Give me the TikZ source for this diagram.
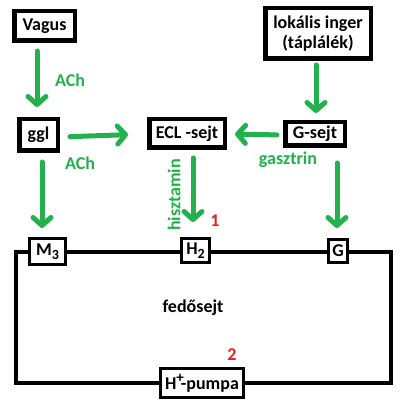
\documentclass[tikz,border=0pt]{standalone}
\usepackage{fontspec}
\setmainfont{Carlito}
\usetikzlibrary{arrows.meta}
\definecolor{pgreen}{HTML}{22B14C}
\definecolor{pred}{HTML}{ED1C24}
\begin{document}
\begin{tikzpicture}[x=1pt,y=-1pt,
  every node/.style={font=\fontsize{18}{20}\selectfont\bfseries, inner sep=0pt},
  topbox/.style={draw=black, line width=4.5pt, fill=white, align=center},
  cellbox/.style={draw=black, line width=3pt, fill=white},
  ga/.style={draw=pgreen, line width=5pt, line cap=round,
    -{Straight Barb[length=8pt,width=18pt,round]}},
  glabel/.style={text=pgreen},
  rlabel/.style={text=pred}]
\useasboundingbox (0,0) rectangle (420,414);
\fill[white] (0,0) rectangle (420,414);
% cell outline
\coordinate (c1) at (16,252);
\coordinate (c2) at (391,383);
\draw[line width=4pt] (c1) rectangle (c2);
% top boxes
\node[topbox, minimum width=60.5pt, minimum height=29.5pt] (vagus) at (44.5,26) {Vagus};
\node[topbox, minimum width=105.5pt, minimum height=50.5pt] (lok) at (318,33.5) {lokális inger\\(táplálék)};
\node[topbox, minimum width=38.5pt, minimum height=31.5pt] (ggl) at (38.5,135) {ggl};
\node[topbox, minimum width=75.5pt, minimum height=28.5pt] (ecl) at (187,133.5) {ECL -sejt};
\node[topbox, minimum width=59.5pt, minimum height=23.5pt] (gs) at (315,134) {G-sejt};
% cell boxes
\node[cellbox, minimum width=36pt, minimum height=26pt] (m3) at (47.5,251.5) {M\raisebox{-4pt}{\fontsize{14}{14}\selectfont 3}};
\node[cellbox, minimum width=28pt, minimum height=24pt] (h2) at (195.5,250.5) {H\raisebox{-4pt}{\fontsize{14}{14}\selectfont 2}};
\node[cellbox, minimum width=19pt, minimum height=23pt] (g) at (338,251) {G};
\node[cellbox, minimum width=83pt, minimum height=29pt] (pump) at (202,383) {H\raisebox{7pt}{\fontsize{15}{15}\selectfont +}\kern-3pt-pumpa};
\node (fed) at (193,308) {fedősejt};
% arrows
\draw[ga, shorten <=8pt, shorten >=10pt] ([xshift=-7.5pt]vagus.south) -- ([xshift=-1.5pt]ggl.north);
\draw[ga, shorten <=10pt, shorten >=19pt] ([yshift=-2pt]ggl.east) -- ([yshift=-0.5pt]ecl.west);
\draw[ga, shorten <=6pt, shorten >=8pt] ([yshift=-1pt]gs.west) -- ([yshift=-0.5pt]ecl.east);
\draw[ga, shorten <=4pt, shorten >=7pt] ([xshift=-2pt]lok.south) -- ([xshift=1pt]gs.north);
\draw[ga, shorten <=9pt, shorten >=9pt] ([xshift=3.5pt]ggl.south) -- ([xshift=-5.5pt]m3.north);
\draw[ga, shorten <=8pt, shorten >=15pt] ([xshift=6pt]ecl.south) -- ([xshift=-2.5pt]h2.north);
\draw[ga, shorten <=15pt, shorten >=10pt] ([xshift=22pt]gs.south) -- ([xshift=-1pt]g.north);
% labels
\node[glabel] (ach1) at (70,80) {ACh};
\node[glabel] (ach2) at (80,163) {ACh};
\node[glabel] (gasz) at (288,160) {gasztrin};
\node[glabel, rotate=90] (hisz) at (174,195) {hisztamin};
\node[rlabel] (n1) at (215,221) {1};
\node[rlabel] (n2) at (232,355) {2};
\end{tikzpicture}
\end{document}
